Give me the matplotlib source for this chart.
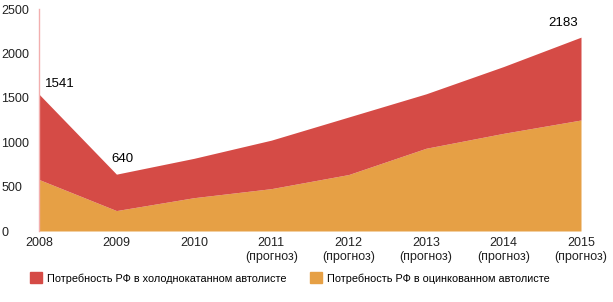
import matplotlib
matplotlib.use("Agg")
import matplotlib.pyplot as plt
from matplotlib.patches import Patch

plt.rcParams['font.family'] = ['Liberation Sans', 'DejaVu Sans']

years = [2008, 2009, 2010, 2011, 2012, 2013, 2014, 2015]
year_labels = ["2008", "2009", "2010", "2011\n(прогноз)", "2012\n(прогноз)",
               "2013\n(прогноз)", "2014\n(прогноз)", "2015\n(прогноз)"]
# galvanized (bottom) and total demand, thousand tonnes
galvanized = [580, 230, 375, 477, 636, 932, 1100, 1250]
total = [1541, 640, 818, 1023, 1284, 1545, 1852, 2183]
yticks = [0, 500, 1000, 1500, 2000, 2500]

RED = "#D54B46"
ORANGE = "#E6A045"

fig = plt.figure(figsize=(6.13, 3.02), dpi=100)
ax = fig.add_axes([39 / 613, 71 / 302, 542 / 613, 222 / 302])

ax.fill_between(years, 0, galvanized, color=ORANGE, linewidth=0)
ax.fill_between(years, galvanized, total, color=RED, linewidth=0)

ax.set_xlim(years[0], years[-1])
ax.set_ylim(0, 2500)
ax.set_xticks(years)
ax.set_xticklabels(year_labels, fontsize=9, color="#222222", linespacing=1.15)
ax.set_yticks(yticks)
ax.set_yticklabels([str(v) for v in yticks], fontsize=9, color="#222222")
for lab in ax.get_yticklabels():
    lab.set_horizontalalignment("left")
ax.tick_params(axis="y", length=0, pad=27)
ax.tick_params(axis="x", length=0, pad=4.5)

for s in ("top", "right", "bottom"):
    ax.spines[s].set_visible(False)
ax.spines["left"].set_color("#F2AFAF")
ax.spines["left"].set_linewidth(1.0)

# value labels
ax.annotate(str(total[0]), (years[0], total[0]), xytext=(4, 7),
            textcoords="offset points", ha="left", va="center", fontsize=9.5)
ax.annotate(str(total[1]), (years[1], total[1]), xytext=(4, 11),
            textcoords="offset points", ha="center", va="center", fontsize=9.5)
ax.annotate(str(total[-1]), (years[-1], total[-1]), xytext=(-2, 10),
            textcoords="offset points", ha="right", va="center", fontsize=9.5)

leg_kw = dict(frameon=False, fontsize=7.8, handlelength=1.15, handleheight=1.15,
              handletextpad=0.4, borderaxespad=0, borderpad=0, loc="center left")
fig.legend(handles=[Patch(color=RED)],
           labels=["Потребность РФ в холоднокатанном автолисте"],
           bbox_to_anchor=(30 / 613, 1 - 278 / 302), **leg_kw)
fig.legend(handles=[Patch(color=ORANGE)],
           labels=["Потребность РФ в оцинкованном автолисте"],
           bbox_to_anchor=(310 / 613, 1 - 278 / 302), **leg_kw)

fig.savefig("out.png", dpi=100)
